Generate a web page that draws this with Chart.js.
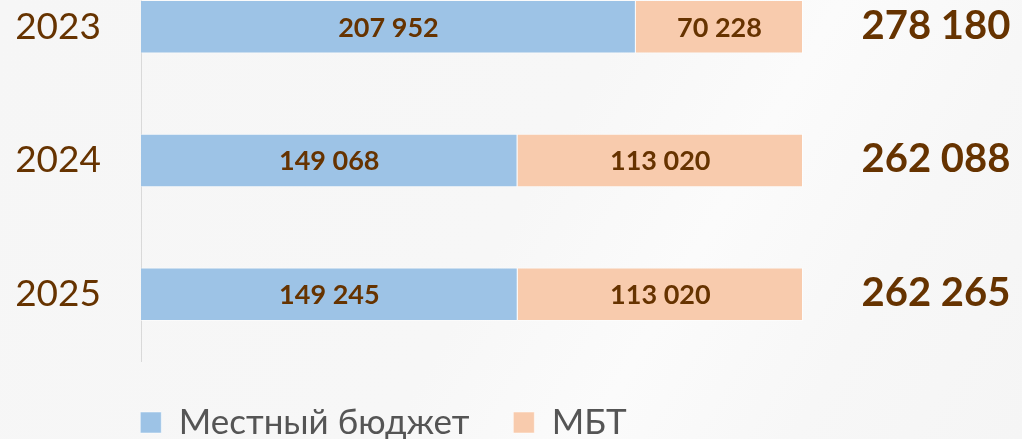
<!DOCTYPE html>
<html>
<head>
<meta charset="utf-8">
<script src="https://cdn.jsdelivr.net/npm/chart.js@4"></script>
<style>
    html, body {
        margin: 0;
        width: 1022px;
        height: 439px;
        overflow: hidden;
        background: linear-gradient(120deg, #f6f6f6 0%, #f7f7f7 50%, #fbfbfb 66%, #f7f7f7 82%, #f5f5f5 100%);
        position: relative;
    }
    #wrap {
        position: absolute;
        left: 0;
        top: -40px;
        width: 1022px;
        height: 490px;
    }
</style>
</head>
<body>
<div id="wrap"><canvas id="budget-chart"></canvas></div>
<script>
const years = ["2023", "2024", "2025"];
const localBudget = [207952, 149068, 149245];
const mbt = [70228, 113020, 113020];
const totals = [278180, 262088, 262265];

const brown = "#663300";
const fontFamily = "Lato, 'Noto Sans', sans-serif";

function fmt(v) {
    return String(v).replace(/\B(?=(\d{3})+(?!\d))/g, " ");
}

// 100% stacked, so each piece is a share of the year total
const localShare = localBudget.map((v, i) => (v / (localBudget[i] + mbt[i])) * 100);
const mbtShare = mbt.map((v, i) => (v / (localBudget[i] + mbt[i])) * 100);
const rawValues = [localBudget, mbt];

// values inside the bars + totals to the right
const barLabels = {
    id: "barLabels",
    afterDatasetsDraw(chart) {
        const ctx = chart.ctx;
        ctx.save();
        ctx.fillStyle = brown;
        ctx.textBaseline = "middle";
        ctx.textAlign = "center";
        ctx.font = "bold 27px " + fontFamily;
        chart.data.datasets.forEach((ds, di) => {
            chart.getDatasetMeta(di).data.forEach((bar, i) => {
                const p = bar.getCenterPoint();
                ctx.fillText(fmt(rawValues[di][i]), p.x, p.y + 1);
            });
        });
        ctx.font = "bold 40px " + fontFamily;
        chart.getDatasetMeta(0).data.forEach((bar, i) => {
            ctx.fillText(fmt(totals[i]), chart.chartArea.right + 133, bar.y - 1);
        });
        ctx.restore();
    },
};

new Chart(document.getElementById("budget-chart"), {
    type: "bar",
    data: {
        labels: years,
        datasets: [
            {
                label: "Местный бюджет",
                data: localShare,
                backgroundColor: "#9dc3e6",
                borderColor: "rgba(255, 255, 255, 0.5)",
                borderWidth: 1,
                categoryPercentage: 1,
                barPercentage: 0.4,
            },
            {
                label: "МБТ",
                data: mbtShare,
                backgroundColor: "#f8cbad",
                borderColor: "rgba(255, 255, 255, 0.5)",
                borderWidth: 1,
                categoryPercentage: 1,
                barPercentage: 0.4,
            },
        ],
    },
    options: {
        indexAxis: "y",
        responsive: true,
        maintainAspectRatio: false,
        animation: false,
        layout: {
            padding: { top: 0, left: -36, right: 219, bottom: 0 },
        },
        scales: {
            x: {
                stacked: true,
                min: 0,
                max: 100,
                display: false,
            },
            y: {
                stacked: true,
                grid: { display: false },
                border: { display: true, color: "#d9d9d9", width: 1 },
                ticks: {
                    color: brown,
                    padding: 32,
                    font: { family: fontFamily, size: 37 },
                },
                afterFit(scale) {
                    scale.width = 177;
                    // tick padding should not push the plot down
                    scale.paddingTop = 0;
                    scale.paddingBottom = 0;
                },
            },
        },
        plugins: {
            legend: {
                position: "bottom",
                labels: {
                    color: "#555555",
                    boxWidth: 21,
                    boxHeight: 21,
                    padding: 44,
                    font: { family: fontFamily, size: 35 },
                },
            },
            tooltip: { enabled: false },
        },
    },
    plugins: [barLabels],
});
</script>
</body>
</html>
